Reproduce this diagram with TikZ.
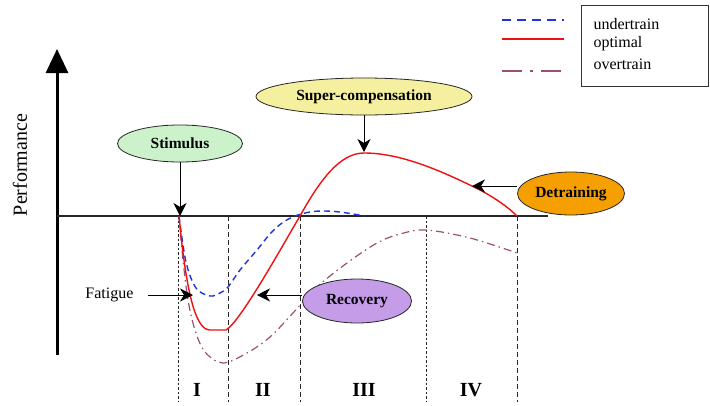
\documentclass[tikz,border=0pt]{standalone}
\usepackage{fontspec}
\setmainfont{Liberation Serif}
\usetikzlibrary{shapes.geometric,arrows.meta}
\definecolor{undercol}{HTML}{2233DD}
\definecolor{optcol}{HTML}{EE1111}
\definecolor{overcol}{HTML}{9A5075}
\definecolor{stimfill}{HTML}{CCF2CC}
\definecolor{superfill}{HTML}{F4F0A0}
\definecolor{recfill}{HTML}{C49CE8}
\definecolor{detfill}{HTML}{F5A000}
\begin{document}
\begin{tikzpicture}[x=1pt,y=-1pt,
  bubble/.style={ellipse,draw=black!85,line width=0.8pt,inner sep=0pt,font=\fontsize{15.5}{17}\selectfont\bfseries},
  callout/.style={draw=black,line width=0.9pt,-{Stealth[length=13pt,width=13pt,inset=4pt]}},
  underline/.style={undercol,line width=1.4pt,dash pattern=on 6pt off 4pt},
  optline/.style={optcol,line width=1.4pt},
  overline/.style={overcol,line width=1.2pt,dash pattern=on 8pt off 4pt on 1.5pt off 4pt},
  phase/.style={black!85,line width=1pt,dash pattern=on 5pt off 3pt},
  phasefine/.style={black!85,line width=0.9pt,dash pattern=on 2.5pt off 2pt},
  numeral/.style={font=\fontsize{20}{22}\selectfont\bfseries},
  legtext/.style={anchor=west,font=\fontsize{16}{18}\selectfont}
]
\useasboundingbox (0,0) rectangle (710,405);

% axes
\coordinate (ybot) at (57,355);
\coordinate (ytop) at (57,49);
\draw[line width=3pt,-{Triangle[length=24pt,width=22pt]}] (ybot) -- (ytop);
\coordinate (xl) at (57,216);
\coordinate (xr) at (548,216);
\draw[line width=1.3pt,black!85] (xl) -- (xr);
\node[rotate=90,font=\fontsize{20}{22}\selectfont] (perf) at (20,165) {Performance};

% phase lines
\coordinate (p1t) at (178,216); \coordinate (p1b) at (178,402);
\coordinate (p2t) at (228,216); \coordinate (p2b) at (228,402);
\coordinate (p3t) at (300,216); \coordinate (p3b) at (300,402);
\coordinate (p4t) at (426,216); \coordinate (p4b) at (426,402);
\coordinate (p5t) at (517,216); \coordinate (p5b) at (517,402);
\draw[phasefine] (p1t) -- (p1b);
\draw[phase] (p2t) -- (p2b);
\draw[phase] (p3t) -- (p3b);
\draw[phasefine] (p4t) -- (p4b);
\draw[phase] (p5t) -- (p5b);

\node[numeral] (n1) at (197,390) {I};
\node[numeral] (n2) at (263,390) {II};
\node[numeral] (n3) at (364,390) {III};
\node[numeral] (n4) at (471,390) {IV};

% curves
\draw[overline] plot[smooth,tension=0.55] coordinates {(179,216) (183,260) (188,300) (195,330) (205,352) (223,363) (247,353) (270,337) (293,313) (317,287) (347,263) (377,243) (400,234) (426,230) (470,238) (517,253)};
\draw[underline] plot[smooth,tension=0.55] coordinates {(179,216) (186,262) (196,288) (210,296) (220,293) (228,287) (240,270) (257,250) (270,234) (282,223) (295,216) (310,212) (323,211) (340,212) (365,216)};
\draw[optline] (179,216) .. controls (186,290) and (195,330) .. (210,330) -- (226,330) .. controls (240,322) and (280,250) .. (300,216) .. controls (320,180) and (340,153) .. (364,153) .. controls (400,153) and (440,170) .. (480,190) .. controls (495,198) and (508,207) .. (517,216);

% callouts
\node[bubble,fill=stimfill,minimum width=125pt,minimum height=37pt] (stim) at (180,143.5) {Stimulus};
\coordinate (stimtip) at (180,216);
\draw[callout] (stim) -- (stimtip);

\node[bubble,fill=superfill,minimum width=216pt,minimum height=37pt] (super) at (364,96.5) {Super-compensation};
\coordinate (supertip) at (364,152);
\draw[callout] (super) -- (supertip);

\node[bubble,fill=detfill,minimum width=107pt,minimum height=43pt] (det) at (571,193.5) {Detraining};
\coordinate (dettip) at (472,186);
\draw[callout] (det.west |- dettip) -- (dettip);

\node[bubble,fill=recfill,minimum width=109pt,minimum height=44pt] (rec) at (357,301) {Recovery};
\coordinate (rectip) at (257,295);
\draw[callout] (rec.west |- rectip) -- (rectip);

\node[anchor=east,font=\fontsize{16}{18}\selectfont] (fat) at (137,295) {Fatigue};
\coordinate (fatstart) at (148,295);
\coordinate (fattip) at (193,295);
\draw[callout] (fatstart) -- (fattip);

% legend
\node[draw=black!80,line width=1pt,minimum width=127pt,minimum height=81pt,anchor=north west,inner sep=0pt] (legbox) at (581,5) {};
\node[legtext] (l1) at (590,24) {undertrain};
\node[legtext] (l2) at (590,44) {optimal};
\node[legtext] (l3) at (590,64) {overtrain};
\coordinate (a1) at (502,20); \coordinate (b1) at (564,20);
\coordinate (a2) at (502,39); \coordinate (b2) at (564,39);
\coordinate (a3) at (502,71); \coordinate (b3) at (564,71);
\draw[undercol,line width=1.6pt,dash pattern=on 9pt off 6pt] (a1) -- (b1);
\draw[optcol,line width=2.2pt] (a2) -- (b2);
\draw[overcol,line width=1.4pt,dash pattern=on 20pt off 8pt on 3pt off 8pt] (a3) -- (b3);
\end{tikzpicture}
\end{document}
